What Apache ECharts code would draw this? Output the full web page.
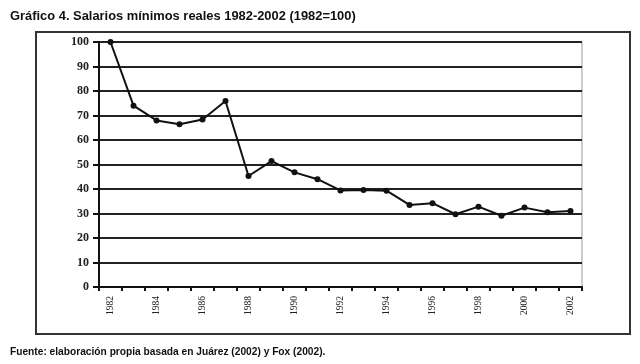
<!DOCTYPE html>
<html><head><meta charset="utf-8">
<script src="https://cdn.jsdelivr.net/npm/echarts@6/dist/echarts.min.js"></script>
<style>html,body{margin:0;padding:0;background:#fff}#c{width:640px;height:364px}</style>
</head><body><div id="c"></div>
<script>
const years = ['1982','1983','1984','1985','1986','1987','1988','1989','1990','1991','1992','1993','1994','1995','1996','1997','1998','1999','2000','2001','2002'];
const salarios = [100, 74, 68, 66.4, 68.4, 75.9, 45.3, 51.4, 46.8, 44, 39.4, 39.6, 39.3, 33.5, 34.2, 29.7, 32.8, 29.1, 32.4, 30.5, 31];
const titleText = 'Gráfico 4. Salarios mínimos reales 1982-2002 (1982=100)';
const sourceText = 'Fuente: elaboración propia basada en Juárez (2002) y Fox (2002).';

const chart = echarts.init(document.getElementById('c'), null, {renderer:'canvas'});
chart.setOption({
  animation: false,
  backgroundColor: '#fff',
  title: [
    {text: titleText, left: 5, top: 5, textStyle: {fontFamily: 'Liberation Sans, Arial', fontWeight: 'bold', fontSize: 12.9, color: '#111'}},
    {text: sourceText, left: 5, top: 342, textStyle: {fontFamily: 'Liberation Sans, Arial', fontWeight: 'bold', fontSize: 10.2, color: '#111'}}
  ],
  graphic: [
    {type: 'rect', shape: {x: 36, y: 32, width: 594, height: 302}, style: {fill: 'none', stroke: '#333', lineWidth: 2}, z: -1}
  ],
  grid: {left: 99, right: 58, top: 42, bottom: 77, show: true, borderColor: '#999', borderWidth: 1},
  xAxis: {
    type: 'category', data: years, boundaryGap: true,
    axisLine: {lineStyle: {color: '#111', width: 2}},
    axisTick: {show: true, interval: 0, length: 4, lineStyle: {color: '#111', width: 2}},
    axisLabel: {interval: 1, rotate: 90, fontFamily: 'Liberation Serif, Times New Roman', fontSize: 9.5, color: '#222', margin: 9}
  },
  yAxis: {
    type: 'value', min: 0, max: 100, interval: 10,
    axisLine: {show: true, lineStyle: {color: '#111', width: 2}},
    axisTick: {show: true, length: 6, lineStyle: {color: '#111', width: 2}},
    axisLabel: {fontFamily: 'Liberation Serif, Times New Roman', fontSize: 12, fontWeight: 'bold', color: '#222', margin: 10},
    splitLine: {show: true, lineStyle: {color: '#222', width: 2}}
  },
  series: [{
    type: 'line', data: salarios,
    symbol: 'circle', symbolSize: 6,
    lineStyle: {color: '#111', width: 2},
    itemStyle: {color: '#111'}
  }]
});
</script></body></html>
